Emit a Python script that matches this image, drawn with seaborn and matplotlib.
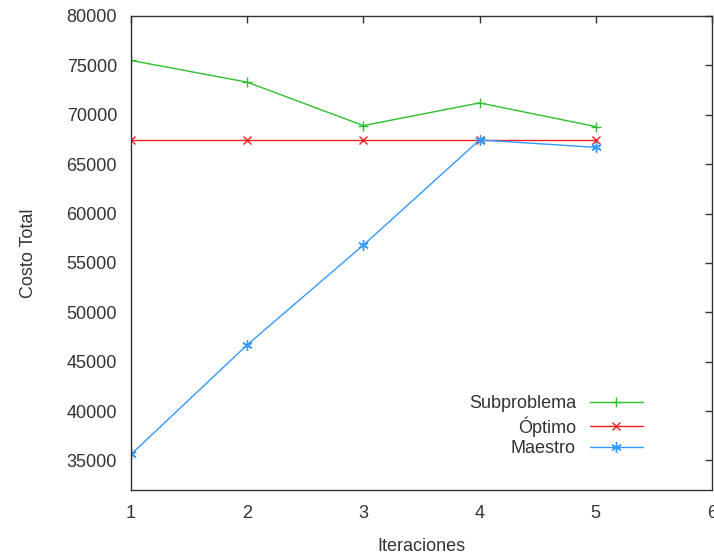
import pandas as pd
import numpy as np
import matplotlib
matplotlib.use("Agg")
import matplotlib.pyplot as plt
import seaborn as sns

iteraciones = [1, 2, 3, 4, 5]
subproblema = [75500, 73300, 68900, 71200, 68800]
optimo = [67400, 67400, 67400, 67400, 67400]
maestro = [35600, 46700, 56800, 67450, 66700]

sns.set_theme(style="white")
plt.rcParams['font.family'] = ['Liberation Sans', 'DejaVu Sans']

fig = plt.figure(figsize=(7.14, 5.56), dpi=100)
ax = fig.add_axes([131 / 714, 1 - 490 / 556, (712 - 131) / 714, (490 - 16) / 556])

series = [
    ("Subproblema", subproblema, "#2fbf2f", "+", 7.5),
    ("Óptimo", optimo, "#ee2222", "x", 6),
    ("Maestro", maestro, "#3399ff", (6, 2, 0), 7.5),
]
for name, vals, col, mk, ms in series:
    sns.lineplot(x=iteraciones, y=vals, ax=ax, color=col, marker=mk,
                 markersize=ms, markeredgewidth=1, markeredgecolor=col,
                 linewidth=1, label=name)

ax.set_xlim(1, 6)
ax.set_ylim(32000, 80000)
ax.set_xticks([1, 2, 3, 4, 5, 6])
ax.set_yticks(np.arange(35000, 80001, 5000))
ax.tick_params(axis="both", which="both", direction="in", length=5, width=1,
               color="#333333", labelsize=13, labelcolor="#333333",
               top=True, right=True, pad=10)
ax.tick_params(axis="x", pad=11)
for s in ax.spines.values():
    s.set_color("#333333")
    s.set_linewidth(1)

ax.set_xlabel("Iteraciones", fontsize=13, color="#333333", labelpad=11)
ax.set_ylabel("Costo Total", fontsize=13, color="#333333", labelpad=21)

leg = ax.legend(loc="lower right", bbox_to_anchor=(0.9086, 0.035), frameon=False,
                markerfirst=False, fontsize=13, handlelength=2.9,
                labelspacing=0.2, handletextpad=0.8)
for t in leg.get_texts():
    t.set_ha("right")
    t.set_color("#333333")
leg._legend_box.align = "right"

fig.savefig("out.png", dpi=100)
